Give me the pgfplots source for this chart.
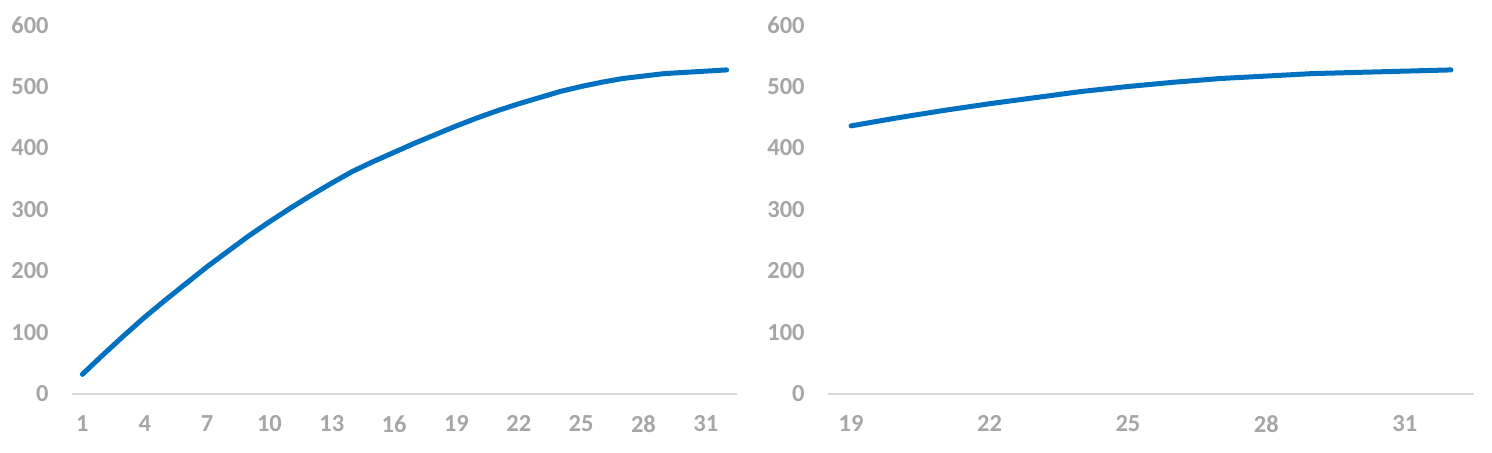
\documentclass[border=0pt]{standalone}
\usepackage{pgfplots}
\pgfplotsset{compat=1.18}
\usepackage{pgfplotstable}
\usepackage{fontspec}
\setmainfont{Carlito}[UprightFont={* Bold}]

\definecolor{serieblue}{HTML}{0070C0}
\definecolor{labelgray}{HTML}{A6A6A6}
\definecolor{axisgray}{HTML}{D9D9D9}

\pgfplotstableread{
x y
1 32
2 64
3 95
4 125
5 153
6 180
7 207
8 232
9 257
10 280
11 302
12 323
13 343
14 362
15 378
16 393
17 408
18 422
19 436
20 449
21 461
22 472
23 482
24 492
25 500
26 507
27 513
28 517
29 521
30 523
31 525
32 527
}\fulldata

\pgfplotstableread{
x y
19 436
20 449
21 461
22 472
23 482
24 492
25 500
26 507
27 513
28 517
29 521
30 523
31 525
32 527
}\taildata

\pgfplotsset{
  panel/.style={
    scale only axis,
    anchor=south west,
    height=184.5pt,
    ymin=0, ymax=600,
    ytick={0,100,...,600},
    axis lines=left,
    y axis line style={draw=none},
    x axis line style={draw=axisgray, line width=1pt, -},
    major tick length=0pt,
    tick label style={font=\fontsize{12.25}{14}\selectfont, text=labelgray, inner sep=0pt},
    /pgf/number format/assume math mode=true,
    yticklabel style={anchor=east, xshift=-11.5pt},
    xticklabel style={anchor=north, yshift=-10.5pt},
    clip=false,
  },
  curve/.style={draw=serieblue, line width=2.5pt, line cap=round, line join=round, mark=none},
}

\begin{document}
\begin{tikzpicture}
\path[use as bounding box] (0,0) rectangle (746pt,226pt);

\begin{axis}[panel, at={(36pt,29pt)}, width=332.5pt,
  xmin=0.5, xmax=32.5, xtick={1,4,...,31}]
  \addplot[curve] table[x=x, y=y] {\fulldata};
\end{axis}

\begin{axis}[panel, at={(414pt,29pt)}, width=323pt,
  xmin=18.5, xmax=32.5, xtick={19,22,...,31}]
  \addplot[curve] table[x=x, y=y] {\taildata};
\end{axis}
\end{tikzpicture}
\end{document}
